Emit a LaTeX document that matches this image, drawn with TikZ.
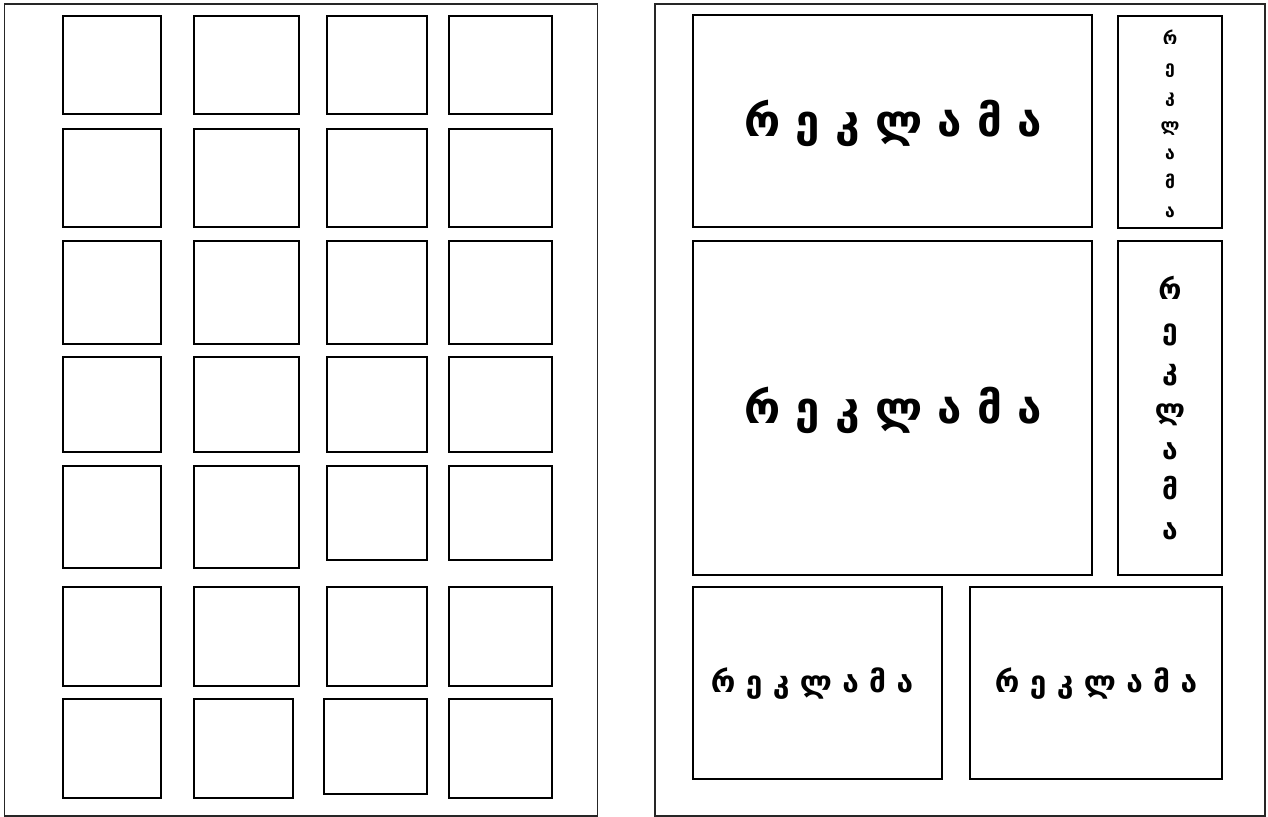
\documentclass[tikz,border=0pt]{standalone}
\usepackage{fontspec}
\newfontfamily\geofont{DejaVu Sans}
\usetikzlibrary{positioning}

\begin{document}
\begin{tikzpicture}[x=0.02cm, y=-0.02cm,
        page/.style={draw=black!85, line width=0.8pt},
        cell/.style={draw=black, line width=0.8pt},
        bigad/.style={font=\geofont\bfseries\fontsize{25pt}{30pt}\selectfont, inner sep=0pt},
        midad/.style={font=\geofont\bfseries\fontsize{17pt}{20pt}\selectfont, inner sep=0pt},
        sidead/.style={font=\geofont\bfseries\fontsize{10pt}{16.4pt}\selectfont, align=center, inner sep=0pt},
        sideadl/.style={font=\geofont\bfseries\fontsize{16pt}{22.7pt}\selectfont, align=center, inner sep=0pt},
    ]
    \useasboundingbox (0,0) rectangle (1268,817);

    % Left page: grid of small cells
    \draw[page] (4.7,4) rectangle (597.6,816);
    \foreach \xa/\xb in {63/161, 194/299, 327/427, 449/552}{
        \foreach \ya/\yb in {16/114, 129/227, 241/344, 357/452, 587/686}
            \draw[cell] (\xa,\ya) rectangle (\xb,\yb);
    }
    % row 5
    \draw[cell] (63,466) rectangle (161,568);
    \draw[cell] (194,466) rectangle (299,568);
    \draw[cell] (327,466) rectangle (427,560);
    \draw[cell] (449,466) rectangle (552,560);
    % last row
    \draw[cell] (63,699) rectangle (161,798);
    \draw[cell] (194,699) rectangle (293,798);
    \draw[cell] (324,699) rectangle (427,794);
    \draw[cell] (449,699) rectangle (552,798);

    % Right page: ad layout
    \draw[page] (655,4) rectangle (1265,816);
    \draw[cell] (693,15) rectangle (1092,227);
    \draw[cell] (1118,16) rectangle (1222,228);
    \draw[cell] (693,241) rectangle (1092,575);
    \draw[cell] (1118,241) rectangle (1222,575);
    \draw[cell] (693,587) rectangle (942,779);
    \draw[cell] (970,587) rectangle (1222,779);

    % Labels
    \node[bigad] (adtop) at (893,123) {რ ე კ ლ ა მ ა};
    \node[bigad] (admid) at (893,410) {რ ე კ ლ ა მ ა};
    \node[midad] (adleft) at (812,684) {რ ე კ ლ ა მ ა};
    \node[midad] (adright) at (1096,684) {რ ე კ ლ ა მ ა};
    \node[sidead] (sidetop) at (1170,124) {რ\\ე\\კ\\ლ\\ა\\მ\\ა};
    \node[sideadl] (sidemid) at (1170,408) {რ\\ე\\კ\\ლ\\ა\\მ\\ა};
\end{tikzpicture}
\end{document}
